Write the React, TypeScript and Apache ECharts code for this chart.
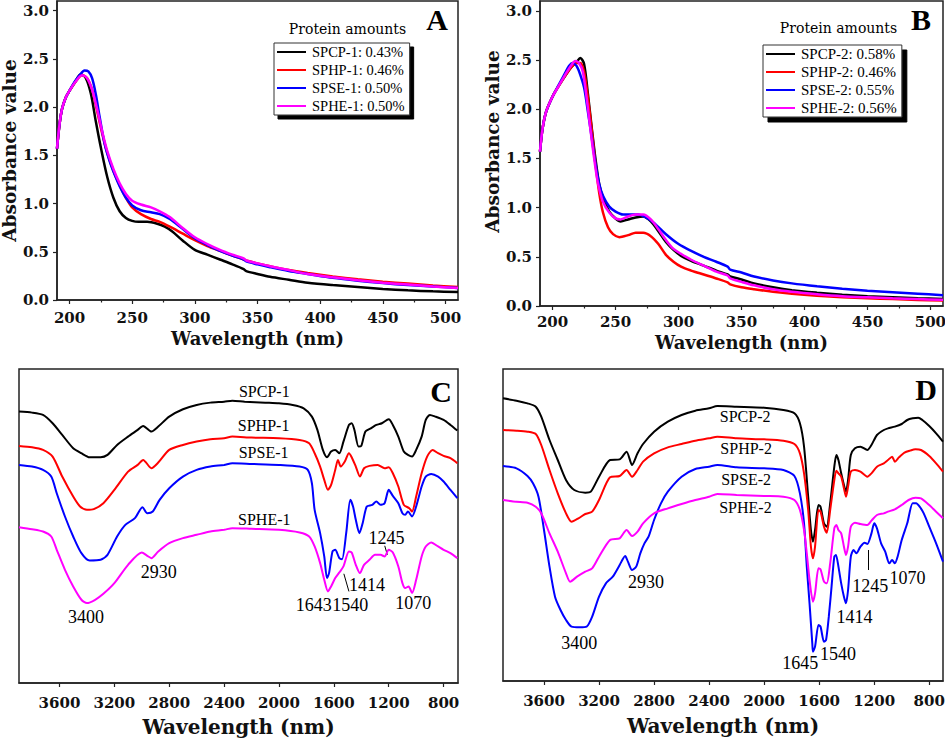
import React, { useEffect, useRef } from "react";
import * as echarts from "echarts";

// ---------- tick labels ----------
const UV_TICKS = [200, 250, 300, 350, 400, 450, 500];
const UV_MINOR = [225, 275, 325, 375, 425, 475];
const ABS_TICKS = [0, 0.5, 1, 1.5, 2, 2.5, 3];
const IR_TICKS = [3600, 3200, 2800, 2400, 2000, 1600, 1200, 800];

// ---------- names / colours ----------
const UV_A_NAMES = ["SPCP-1: 0.43%", "SPHP-1: 0.46%", "SPSE-1: 0.50%", "SPHE-1: 0.50%"];
const UV_B_NAMES = ["SPCP-2: 0.58%", "SPHP-2: 0.46%", "SPSE-2: 0.55%", "SPHE-2: 0.56%"];
const IR_C_NAMES = ["SPCP-1", "SPHP-1", "SPSE-1", "SPHE-1"];
const IR_D_NAMES = ["SPCP-2", "SPHP-2", "SPSE-2", "SPHE-2"];
const COLORS = ["#000000", "#ff0000", "#0000ff", "#ff00ff"];

// ---------- Panel A : UV (wavelength nm, absorbance) ----------
const SPCP1_UV = [[190,1.57],[192,1.82],[194,1.98],[197,2.10],[200,2.17],[204,2.25],[209,2.34],[213,2.30],[217,2.14],[221,1.85],[225,1.58],[230,1.28],[235,1.06],[240,0.92],[245,0.85],[250,0.82],[255,0.81],[262,0.81],[270,0.79],[276,0.76],[282,0.71],[290,0.62],[300,0.52],[310,0.47],[320,0.42],[330,0.37],[339,0.32],[341,0.30],[350,0.27],[360,0.24],[375,0.21],[390,0.18],[410,0.155],[430,0.135],[450,0.115],[470,0.10],[490,0.09],[510,0.083]];
const SPHP1_UV = [[190,1.57],[192,1.82],[194,1.98],[197,2.10],[200,2.17],[204,2.25],[210,2.33],[214,2.30],[218,2.18],[222,1.96],[226,1.73],[230,1.53],[235,1.34],[240,1.19],[245,1.06],[250,0.96],[257,0.89],[265,0.84],[272,0.81],[280,0.76],[290,0.69],[300,0.62],[310,0.56],[320,0.51],[330,0.46],[339,0.42],[341,0.41],[350,0.38],[360,0.35],[375,0.31],[390,0.28],[410,0.245],[430,0.215],[450,0.19],[470,0.17],[490,0.15],[510,0.135]];
const SPSE1_UV = [[190,1.57],[192,1.82],[194,1.98],[197,2.10],[200,2.17],[204,2.26],[208,2.33],[212,2.38],[215,2.37],[218,2.30],[221,2.13],[224,1.90],[228,1.62],[232,1.44],[236,1.30],[240,1.18],[245,1.06],[250,0.98],[257,0.93],[265,0.91],[272,0.89],[280,0.84],[290,0.74],[300,0.64],[310,0.57],[320,0.51],[330,0.46],[339,0.42],[341,0.40],[350,0.37],[360,0.34],[375,0.30],[390,0.27],[410,0.23],[430,0.20],[450,0.175],[470,0.155],[490,0.14],[510,0.125]];
const SPHE1_UV = [[190,1.57],[192,1.82],[194,1.98],[197,2.10],[200,2.17],[204,2.25],[210,2.33],[214,2.30],[218,2.18],[222,1.98],[226,1.75],[230,1.55],[235,1.36],[240,1.21],[245,1.10],[250,1.03],[257,0.99],[265,0.96],[272,0.92],[280,0.86],[290,0.75],[300,0.65],[310,0.58],[320,0.52],[330,0.47],[339,0.43],[341,0.41],[350,0.38],[360,0.35],[375,0.31],[390,0.27],[410,0.235],[430,0.205],[450,0.18],[470,0.16],[490,0.14],[510,0.125]];

// ---------- Panel B : UV ----------
const SPCP2_UV = [[190,1.57],[192,1.80],[195,1.98],[200,2.13],[205,2.24],[210,2.34],[215,2.43],[219,2.48],[222,2.52],[225,2.46],[228,2.16],[231,1.82],[234,1.50],[237,1.24],[240,1.10],[245,0.96],[250,0.89],[254,0.86],[260,0.88],[266,0.90],[272,0.91],[278,0.86],[284,0.76],[290,0.65],[296,0.57],[302,0.51],[310,0.46],[320,0.41],[330,0.36],[339,0.32],[341,0.30],[350,0.27],[360,0.23],[375,0.19],[390,0.16],[410,0.135],[430,0.115],[450,0.10],[470,0.09],[490,0.08],[510,0.072]];
const SPHP2_UV = [[190,1.57],[192,1.80],[195,1.98],[200,2.13],[205,2.24],[210,2.34],[215,2.43],[219,2.47],[222,2.47],[225,2.38],[228,2.12],[231,1.80],[234,1.45],[237,1.15],[240,0.95],[244,0.80],[248,0.73],[253,0.70],[260,0.72],[266,0.745],[272,0.745],[278,0.71],[284,0.63],[290,0.52],[296,0.45],[302,0.40],[310,0.36],[320,0.32],[330,0.28],[339,0.24],[341,0.22],[350,0.19],[360,0.17],[375,0.145],[390,0.125],[410,0.105],[430,0.09],[450,0.078],[470,0.07],[490,0.062],[510,0.057]];
const SPSE2_UV = [[190,1.57],[192,1.80],[195,1.98],[200,2.13],[205,2.25],[210,2.37],[213,2.44],[216,2.47],[219,2.44],[222,2.35],[225,2.22],[228,1.98],[231,1.72],[234,1.45],[237,1.24],[240,1.12],[245,1.01],[250,0.96],[256,0.93],[262,0.93],[268,0.93],[274,0.90],[280,0.85],[290,0.73],[300,0.63],[310,0.56],[320,0.50],[330,0.45],[339,0.40],[341,0.37],[350,0.34],[360,0.30],[375,0.26],[390,0.23],[410,0.20],[430,0.175],[450,0.155],[470,0.14],[490,0.125],[510,0.11]];
const SPHE2_UV = [[190,1.57],[192,1.80],[195,1.98],[200,2.13],[205,2.24],[210,2.35],[215,2.45],[218,2.49],[221,2.47],[224,2.38],[227,2.12],[230,1.80],[233,1.50],[236,1.25],[240,1.06],[245,0.95],[250,0.89],[254,0.88],[260,0.91],[266,0.93],[272,0.93],[278,0.88],[284,0.78],[290,0.67],[296,0.58],[302,0.53],[310,0.47],[320,0.41],[330,0.35],[339,0.31],[341,0.28],[350,0.245],[360,0.21],[375,0.17],[390,0.145],[410,0.12],[430,0.10],[450,0.088],[470,0.078],[490,0.07],[510,0.064]];

// ---------- Panel C : FTIR (wavenumber, relative transmittance) ----------
const SPCP1_IR = [[3895,81.5],[3800,81.2],[3720,80.5],[3650,78],[3580,74.5],[3500,70.5],[3440,69],[3380,67.8],[3300,67.8],[3250,68.5],[3180,71.5],[3100,74],[3030,76],[2990,77.2],[2930,75.5],[2880,77],[2800,80],[2700,82.2],[2600,83.5],[2500,84.2],[2400,84.5],[2340,84.8],[2250,84.5],[2100,84.2],[2000,84],[1900,83.5],[1820,82.5],[1760,80],[1720,76],[1680,70],[1650,67.8],[1620,69.5],[1590,70],[1560,69],[1530,72.5],[1490,77.5],[1470,78],[1450,76],[1420,71],[1400,71.2],[1370,75.5],[1330,76.5],[1290,77.5],[1250,78],[1200,79.2],[1170,77.5],[1130,74],[1090,69.5],[1060,68.5],[1030,68],[1000,70],[960,74],[930,79],[900,80.5],[860,80],[800,79],[750,77.5],[700,75.8]];
const SPHP1_IR = [[3895,71.2],[3800,70.8],[3720,70],[3650,68],[3580,62],[3500,56],[3450,53],[3400,52],[3350,52.2],[3280,54],[3200,58],[3100,63.5],[3030,65.5],[2990,67],[2930,64.5],[2880,66.2],[2800,70],[2700,71.5],[2600,72.5],[2500,73.2],[2400,73.5],[2340,74],[2200,73.7],[2000,73.5],[1850,73],[1780,72],[1740,69],[1700,65],[1670,61],[1643,58],[1620,59.5],[1590,64],[1570,67],[1550,65],[1520,66.5],[1490,69],[1470,67.8],[1440,65],[1410,62],[1380,64.5],[1340,65.2],[1280,65.5],[1230,64.5],[1200,64.8],[1170,63],[1130,59],[1090,53.5],[1050,52.5],[1030,51.5],[1000,56],[960,63],[920,68],[880,70],[840,69],[800,68.2],[750,67.5],[700,66]];
const SPSE1_IR = [[3895,65.5],[3800,65],[3720,64],[3660,62],[3620,57],[3560,50],[3500,44],[3440,39],[3380,36.8],[3300,37],[3250,38.5],[3180,44],[3120,47.5],[3050,49.5],[2995,52.8],[2960,51],[2920,51.5],[2870,55],[2800,58.5],[2700,62],[2600,64],[2500,65],[2400,65.5],[2340,66],[2200,65.8],[2000,65.5],[1850,65],[1790,64],[1760,60],[1740,52],[1700,45],[1670,38],[1650,31.5],[1635,33],[1610,39.5],[1590,40],[1560,37.5],[1540,37.2],[1510,45],[1480,55],[1460,53],[1440,49],[1414,45],[1390,48],[1360,53],[1320,53.5],[1290,54.5],[1260,53.5],[1230,54],[1200,58],[1170,56.2],[1130,54],[1100,51],[1080,50.5],[1060,51.5],[1030,50],[1000,53],[960,59],[930,62],[890,62.8],[840,62],[800,60.5],[750,58],[700,55.5]];
const SPHE1_IR = [[3895,46.8],[3800,46.2],[3720,45.5],[3660,44],[3620,40],[3560,34],[3500,29],[3440,25],[3400,24],[3340,25],[3280,26.8],[3200,30],[3100,35.5],[3000,39.2],[2960,38.2],[2930,37.5],[2880,39.5],[2800,42],[2700,43.5],[2600,44.5],[2500,45.5],[2400,46],[2340,46.5],[2200,46.3],[2000,46],[1850,45.2],[1780,44],[1740,41],[1700,36],[1670,31],[1643,27.5],[1620,29],[1590,31.5],[1560,33.2],[1530,35],[1490,39.5],[1470,39.2],[1440,35.5],[1410,33],[1380,35.5],[1340,37],[1300,38.5],[1260,38.5],[1230,38],[1200,40],[1170,39.2],[1130,35],[1100,30],[1080,28.5],[1055,29],[1030,27],[1000,31],[960,38],[930,41],[890,42.2],[840,41],[800,40],[750,39],[700,37.5]];

// ---------- Panel D : FTIR ----------
const SPCP2_IR = [[3898,84.8],[3800,84.1],[3720,83.3],[3660,82.3],[3620,79.3],[3560,72.3],[3500,66.3],[3440,60.3],[3380,57.3],[3300,56.5],[3260,56.8],[3200,61.3],[3120,66.3],[3050,66.5],[3000,68.8],[2960,64.8],[2920,68.3],[2880,71.1],[2800,74.8],[2700,77.8],[2600,79.8],[2500,81.1],[2400,81.8],[2340,82.5],[2200,82.3],[2000,82],[1860,81.3],[1780,80.3],[1740,77.3],[1710,70.3],[1680,55.3],[1660,45.3],[1645,41.8],[1630,45.3],[1605,52.8],[1590,52.3],[1565,47.3],[1545,46.3],[1520,53.3],[1490,64.3],[1475,67.8],[1460,66.3],[1440,62.3],[1420,58.8],[1405,56.8],[1390,60.3],[1370,67.8],[1340,69.8],[1300,70.3],[1250,69.3],[1220,70.8],[1180,73.8],[1130,75.3],[1100,75.8],[1050,76.3],[1000,77.1],[960,78.3],[920,78.8],[880,79],[850,78.3],[800,76.5],[750,74.3],[700,71.8]];
const SPHP2_IR = [[3898,75.3],[3800,75.1],[3720,74.8],[3660,74.1],[3620,70.8],[3560,63.3],[3500,56.3],[3440,50.3],[3400,47.8],[3350,48.8],[3300,50.1],[3250,50.8],[3200,54.3],[3120,61.1],[3050,61.5],[3000,63.3],[2960,61.3],[2920,63.3],[2880,65.8],[2800,68.3],[2700,70.1],[2600,71.1],[2500,72.1],[2400,72.8],[2340,73.3],[2200,72.8],[2000,72.5],[1860,72.1],[1780,71.1],[1740,68.3],[1710,62.3],[1680,51.3],[1660,40.3],[1645,36.8],[1630,40.3],[1605,51.3],[1590,50.8],[1565,46.3],[1545,44.5],[1520,51.3],[1490,60.3],[1475,63.1],[1460,62.3],[1440,61.3],[1420,57.8],[1405,55.3],[1390,58.3],[1370,62.8],[1340,63.3],[1300,62.8],[1250,61.3],[1220,62.3],[1180,64.3],[1130,65.3],[1100,66.3],[1070,67.3],[1050,65.8],[1020,67.1],[980,68.5],[940,69.1],[900,69.5],[860,69.3],[800,67.5],[750,65.3],[700,62.8]];
const SPSE2_IR = [[3898,64.5],[3800,63.8],[3720,61.5],[3680,59.3],[3640,55.3],[3600,45.3],[3560,34.3],[3520,25.3],[3480,21.3],[3440,18.3],[3400,16.3],[3340,16.1],[3290,16.3],[3250,19.3],[3200,25.3],[3150,29.3],[3100,31.3],[3050,34.8],[3010,37.5],[2990,35.8],[2960,33.3],[2930,34.3],[2900,38.3],[2870,41.3],[2840,43.3],[2800,48.3],[2750,53.3],[2700,56.8],[2600,61.3],[2500,63.6],[2400,64.3],[2340,64.8],[2200,64.1],[2000,63.8],[1860,63.3],[1780,61.5],[1740,56.3],[1710,47.3],[1690,34.3],[1670,23.3],[1650,11.3],[1645,8.8],[1630,10.3],[1605,16.8],[1590,16.3],[1565,11.8],[1550,12.3],[1530,19.3],[1510,28.3],[1490,37.3],[1478,37.8],[1460,34.3],[1440,29.3],[1420,25.3],[1405,23.3],[1390,27.3],[1370,37.3],[1350,39.3],[1330,38.3],[1300,40.3],[1270,41.5],[1250,41.1],[1220,44.3],[1200,47.3],[1180,45.8],[1150,41.3],[1120,38.8],[1090,35.3],[1070,36.3],[1050,35.3],[1030,37.3],[1000,42.3],[960,47.3],[920,53.3],[895,53.3],[870,52.3],[840,50.3],[800,46.3],[750,41.3],[700,35.8]];
const SPHE2_IR = [[3898,54.3],[3800,53.8],[3720,53.5],[3660,52.3],[3620,50.3],[3560,44.3],[3500,38.8],[3440,32.3],[3410,29.8],[3360,31.3],[3300,32.8],[3250,33.8],[3200,37.3],[3120,42.3],[3050,42.8],[3000,45.3],[2960,43.5],[2920,44.8],[2880,47.3],[2800,50.3],[2700,51.8],[2600,53.1],[2500,54.3],[2400,55.3],[2340,56.1],[2200,55.8],[2000,55.5],[1860,55.3],[1780,54.3],[1740,51.3],[1710,45.3],[1690,38.3],[1670,30.3],[1645,23.8],[1630,26.3],[1605,33.8],[1590,33.5],[1565,29.8],[1545,29.3],[1520,35.3],[1490,45.8],[1475,46.8],[1460,45.3],[1440,44.3],[1420,40.3],[1405,37.8],[1390,40.3],[1370,46.3],[1340,47.5],[1300,47.1],[1250,46.8],[1220,48.1],[1180,49.8],[1130,50.3],[1100,50.8],[1050,51.5],[1000,52.8],[950,54.3],[900,55],[860,54.8],[800,52.8],[750,50.8],[700,48.8]];

// ---------- annotations (name, wavenumber, transmittance) ----------
const C_CURVE_LABELS = [["SPCP-1",2107,87.5],["SPHP-1",2112,77.2],["SPSE-1",2112,69.2],["SPHE-1",2107,49.0]];
const C_PEAK_LABELS = [["3400",3407,19.8],["2930",2876,33.2],["1643",1746,23.5],["1540",1480,23.5],["1414",1359,29.5],["1245",1217,43.5],["1070",1022,24.0]];
const C_LEADERS = [[1527,32.8,1490,27.5],[1229,41.2,1210,38.5]];
const D_CURVE_LABELS = [["SPCP-2",2138,79.3],["SPHP-2",2131,69.8],["SPSE-2",2131,60.5],["SPHE-2",2136,52.1]];
const D_PEAK_LABELS = [["3400",3343,11.5],["2930",2858,29.8],["1645",1738,5.3],["1540",1464,8.0],["1414",1343,19.3],["1245",1229,28.5],["1070",958,30.8]];
const D_LEADERS = [[1241,39.3,1241,33.3]];

const UV_A = [SPCP1_UV, SPHP1_UV, SPSE1_UV, SPHE1_UV];
const UV_B = [SPCP2_UV, SPHP2_UV, SPSE2_UV, SPHE2_UV];
const IR_C = [SPCP1_IR, SPHP1_IR, SPSE1_IR, SPHE1_IR];
const IR_D = [SPCP2_IR, SPHP2_IR, SPSE2_IR, SPHE2_IR];

const INK = "#111";
const AXIS_COLOR = "#222";
const AXFONT = '"DejaVu Serif", serif';
const SERIF = '"Liberation Serif", "DejaVu Serif", serif';

function uvXAxis(gridIndex: number, labelMargin: number, nameGap: number) {
  return {
    type: "value", gridIndex, min: 190, max: 510, position: "bottom",
    name: "Wavelength (nm)", nameLocation: "middle", nameGap,
    nameTextStyle: { fontFamily: AXFONT, fontWeight: "bold", fontSize: 18, color: INK },
    axisLine: { show: true, onZero: false, lineStyle: { color: AXIS_COLOR, width: 1.5 } },
    axisTick: { show: true, customValues: UV_TICKS, length: 4, lineStyle: { color: AXIS_COLOR, width: 1.2 } },
    axisLabel: { customValues: UV_TICKS, margin: labelMargin, fontFamily: AXFONT, fontWeight: "bold", fontSize: 15, color: INK,
      formatter: (v: number) => String(v) },
    splitLine: { show: false },
  };
}
function uvMinorAxis(gridIndex: number) {
  return {
    type: "value", gridIndex, min: 190, max: 510, position: "bottom",
    axisLine: { show: false },
    axisTick: { show: true, customValues: UV_MINOR, length: 2.5, lineStyle: { color: AXIS_COLOR, width: 1.2 } },
    axisLabel: { show: false, customValues: UV_MINOR },
    splitLine: { show: false },
  };
}
function absYAxis(gridIndex: number, nameGap: number, namePad: number[]) {
  return {
    type: "value", gridIndex, min: 0, max: 3.1,
    name: "Absorbance value", nameLocation: "middle", nameGap,
    nameTextStyle: { fontFamily: AXFONT, fontWeight: "bold", fontSize: 18.5, color: INK, padding: namePad },
    axisLine: { show: true, lineStyle: { color: AXIS_COLOR, width: 1.5 } },
    axisTick: { show: true, customValues: ABS_TICKS, length: 4, lineStyle: { color: AXIS_COLOR, width: 1.2 } },
    axisLabel: { customValues: ABS_TICKS, margin: 8, fontFamily: AXFONT, fontWeight: "bold", fontSize: 15, color: INK,
      formatter: (v: number) => v.toFixed(1) },
    splitLine: { show: false },
  };
}
function irXAxis(gridIndex: number, min: number, max: number, nameGap: number) {
  return {
    type: "value", gridIndex, min, max, inverse: true, position: "bottom",
    name: "Wavelength (nm)", nameLocation: "middle", nameGap,
    nameTextStyle: { fontFamily: AXFONT, fontWeight: "bold", fontSize: 20, color: INK },
    axisLine: { show: true, onZero: false, lineStyle: { color: AXIS_COLOR, width: 1.5 } },
    axisTick: { show: true, customValues: IR_TICKS, length: 4, lineStyle: { color: AXIS_COLOR, width: 1.2 } },
    axisLabel: { customValues: IR_TICKS, margin: 12, fontFamily: AXFONT, fontWeight: "bold", fontSize: 15, color: INK,
      formatter: (v: number) => String(v) },
    splitLine: { show: false },
  };
}

function labelItems(list: any[], fontSize: number) {
  return list.map(([name, x, y]) => ({
    name, coord: [x, y],
    label: { show: true, position: "inside", formatter: "{b}", color: "#000", fontFamily: SERIF, fontSize },
  }));
}
function leaderItems(list: number[][]) {
  return list.map(([x1, y1, x2, y2]) => [{ coord: [x1, y1] }, { coord: [x2, y2] }]);
}

function legendCfg(names: string[], left: number, top: number, shadow: number, fontSize: number) {
  return {
    data: names, orient: "vertical", left, top, itemWidth: 29, itemHeight: 13, itemGap: 3,
    padding: [1.5, 5, 1.5, 2], backgroundColor: "#fff", borderColor: "#333", borderWidth: 1,
    shadowColor: "#000", shadowBlur: 0, shadowOffsetX: shadow, shadowOffsetY: shadow,
    selectedMode: false,
    itemStyle: { color: "rgba(0,0,0,0)", borderColor: "rgba(0,0,0,0)", borderWidth: 0 },
    textStyle: { fontFamily: SERIF, fontSize, lineHeight: 13, height: 13, color: "#000", padding: [0, 0, 0, 1] },
  };
}

const GRID_BASE = { show: true, borderColor: AXIS_COLOR, borderWidth: 1.5, containLabel: false, outerBoundsMode: "none" };

export default function App() {
  const ref = useRef<HTMLDivElement>(null);
  useEffect(() => {
    document.body.style.margin = "0";
    if (!ref.current) return;
    const chart = echarts.init(ref.current, undefined, { renderer: "svg" });

    const series: any[] = [];
    UV_A.forEach((d, i) => series.push({
      type: "line", name: UV_A_NAMES[i], xAxisIndex: 0, yAxisIndex: 0, data: d,
      symbol: "none", showSymbol: false, smooth: 0.3, color: COLORS[i],
      lineStyle: { color: COLORS[i], width: 2.5 }, z: 2 + i,
    }));
    UV_B.forEach((d, i) => series.push({
      type: "line", name: UV_B_NAMES[i], xAxisIndex: 2, yAxisIndex: 1, data: d,
      symbol: "none", showSymbol: false, smooth: 0.3, color: COLORS[i],
      lineStyle: { color: COLORS[i], width: 2.5 }, z: 2 + i,
    }));
    IR_C.forEach((d, i) => series.push({
      type: "line", name: IR_C_NAMES[i] + " ", xAxisIndex: 4, yAxisIndex: 2, data: d,
      symbol: "none", showSymbol: false, smooth: 0.25, color: COLORS[i],
      lineStyle: { color: COLORS[i], width: 2 }, z: 2 + i,
      ...(i === 3 ? {
        markPoint: { symbol: "circle", symbolSize: 1, itemStyle: { color: "rgba(0,0,0,0)" }, silent: true,
          data: [...labelItems(C_CURVE_LABELS, 16), ...labelItems(C_PEAK_LABELS, 18)] },
        markLine: { symbol: ["none", "none"], silent: true, label: { show: false },
          lineStyle: { color: "#000", width: 1, type: "solid" }, data: leaderItems(C_LEADERS) },
      } : {}),
    }));
    IR_D.forEach((d, i) => series.push({
      type: "line", name: IR_D_NAMES[i] + " ", xAxisIndex: 5, yAxisIndex: 3, data: d,
      symbol: "none", showSymbol: false, smooth: 0.25, color: COLORS[i],
      lineStyle: { color: COLORS[i], width: 2 }, z: 2 + i,
      ...(i === 2 ? {
        markPoint: { symbol: "circle", symbolSize: 1, itemStyle: { color: "rgba(0,0,0,0)" }, silent: true,
          data: [...labelItems(D_CURVE_LABELS, 16), ...labelItems(D_PEAK_LABELS, 18)] },
        markLine: { symbol: ["none", "none"], silent: true, label: { show: false },
          lineStyle: { color: "#000", width: 1, type: "solid" }, data: leaderItems(D_LEADERS) },
      } : {}),
    }));

    const panelText = (text: string, x: number, y: number, font: string) => ({
      type: "text", x, y, silent: true,
      style: { text, font, fill: "#000", textAlign: "center", textVerticalAlign: "middle" },
    });

    const option: any = {
      animation: false,
      backgroundColor: "#fff",
      grid: [
        { ...GRID_BASE, left: 57, top: 1, width: 401, height: 299 },
        { ...GRID_BASE, left: 540, top: 1, width: 403, height: 305 },
        { ...GRID_BASE, left: 19, top: 369, width: 439, height: 314 },
        { ...GRID_BASE, left: 503, top: 369, width: 440, height: 312 },
      ],
      xAxis: [
        uvXAxis(0, 10, 29),
        uvMinorAxis(0),
        uvXAxis(1, 8, 27),
        uvMinorAxis(1),
        irXAxis(2, 695, 3895, 34),
        irXAxis(3, 700, 3898, 35),
      ],
      yAxis: [
        absYAxis(0, 37, [0, 0, 0, 0]),
        absYAxis(1, 35, [0, 0, 0, 24]),
        { type: "value", gridIndex: 2, min: 0, max: 94.3, show: false },
        { type: "value", gridIndex: 3, min: 0, max: 93.6, show: false },
      ],
      legend: [
        legendCfg(UV_A_NAMES, 274, 43, 4, 14.5),
        legendCfg(UV_B_NAMES, 763, 45, 5, 15),
      ],
      graphic: [
        panelText("Protein amounts", 347.5, 29, `14px ${AXFONT}`),
        panelText("Protein amounts", 838.5, 28, `14px ${AXFONT}`),
        panelText("A", 437, 19, `bold 30px ${SERIF}`),
        panelText("B", 921, 19, `bold 30px ${SERIF}`),
        panelText("C", 441, 391, `bold 30px ${SERIF}`),
        panelText("D", 926, 389, `bold 30px ${SERIF}`),
      ],
      series,
    };
    chart.setOption(option);
    return () => chart.dispose();
  }, []);
  return <div ref={ref} style={{ width: 945, height: 742 }} />;
}
